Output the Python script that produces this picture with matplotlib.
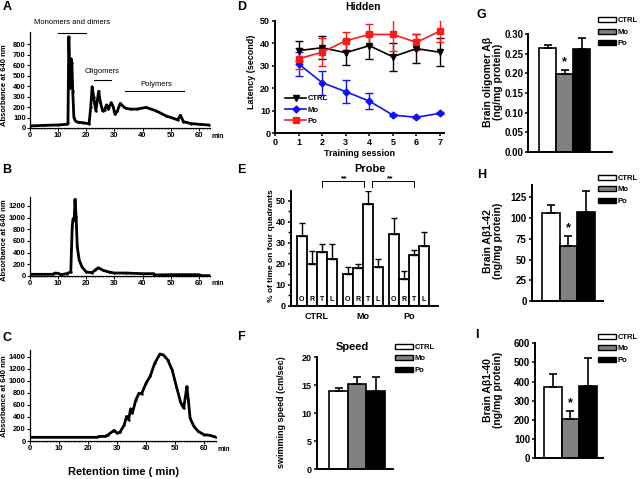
import matplotlib
matplotlib.use('Agg')
import matplotlib.pyplot as plt
from matplotlib.lines import Line2D
from matplotlib.patches import Patch
import numpy as np

plt.rcParams['font.family'] = ['Liberation Sans', 'DejaVu Sans']
plt.rcParams['font.weight'] = 'bold'

# Chromatograms (retention time in min, absorbance at 640 nm)
a_time = [0, 5, 10, 13, 13.5, 13.8, 14.1, 14.3, 14.6, 14.9, 15.2, 15.6, 16.2, 17, 19, 21, 21.6,
          22.1, 22.6, 23.4, 24.4, 25.0, 25.8, 26.5, 27.2, 27.9, 28.9, 29.6, 30.2, 31.0, 32.1, 33.3,
          34.2, 36, 38, 41.3, 44.9, 48.4, 52.0, 52.5, 53.5, 54.5, 57.3, 60.2, 63.5]
a_abs = [20, 25, 29, 35, 50, 870, 600, 380, 660, 620, 350, 100, 65, 55, 50, 40, 200,
         394, 300, 163, 350, 250, 163, 170, 221, 180, 243, 200, 131, 160, 234, 202,
         186, 180, 180, 196, 163, 115, 83, 77, 122, 61, 42, 35, 29]

b_time = [0, 8, 9, 10, 11, 13, 14.5, 15.0, 15.3, 15.7, 16.0, 16.4, 16.8, 17.5, 18.5, 20, 22, 23,
          24.3, 26, 28, 30, 34, 40, 44, 44.2, 50, 60, 61, 64]
b_abs = [29, 29, 51, 45, 23, 40, 69, 840, 983, 954, 1314, 1011, 497, 269, 154, 69, 57, 97,
         143, 97, 69, 51, 51, 40, 40, 17, 23, 23, 6, 6]

c_time = [0, 23, 24, 26, 27, 28.5, 29, 30, 31, 32.5, 33.3, 34, 34.7, 35.3, 36.5, 37.6, 38.5, 40,
          41.5, 43, 44.8, 46, 47.5, 49, 50.5, 52, 53, 53.6, 54.1, 54.6, 55.2, 56.5, 58, 60, 62, 64]
c_abs = [61, 61, 77, 77, 105, 160, 176, 132, 143, 270, 408, 353, 535, 463, 683, 794, 783, 959,
         1080, 1290, 1444, 1428, 1345, 1180, 904, 628, 546, 739, 904, 683, 380, 243, 160, 105, 94, 66]

# Hidden platform latency (s)
sessions = [1, 2, 3, 4, 5, 6, 7]
ctrl_lat = [36.7, 38.0, 35.8, 38.9, 34.0, 37.6, 36.0]
ctrl_lat_err = [4.5, 5.2, 5.6, 5.8, 6.2, 6.5, 6.3]
mo_lat = [30.8, 22.5, 18.5, 14.3, 8.1, 7.1, 8.9]
mo_lat_err = [5.4, 5.3, 5.1, 3.5, 0.4, 0.4, 0.4]
po_lat = [33.1, 36.0, 41.1, 43.9, 43.9, 40.4, 45.4]
po_lat_err = [4.6, 6.2, 4.0, 4.5, 7.2, 3.6, 4.7]

# Probe trial (% of time in quadrants)
groups = ['CTRL', 'Mo', 'Po']
quadrants = ['O', 'R', 'T', 'L']
probe_vals = [[33.2, 19.7, 25.6, 22.4],
              [14.9, 17.8, 48.3, 18.6],
              [34.4, 12.9, 24.0, 28.6]]
probe_err = [[6.3, 6.3, 3.8, 6.8],
             [3.4, 2.2, 6.5, 3.6],
             [7.5, 3.6, 2.7, 6.5]]

# Speed and brain Abeta
speed = [14.0, 15.2, 14.0]
speed_err = [0.6, 1.2, 2.4]
oligomer = [0.264, 0.199, 0.262]
oligomer_err = [0.009, 0.010, 0.028]
ab42 = [106, 66.5, 107]
ab42_err = [10, 12, 26]
ab40 = [374, 205, 379]
ab40_err = [66, 43, 146]

bar_colors = ['white', '#808080', 'black']

W, H = 640, 479
fig = plt.figure(figsize=(6.4, 4.79), dpi=100)


def axes_px(l, t, r, b):
    return fig.add_axes([l / W, 1 - b / H, (r - l) / W, (b - t) / H])


def text_px(x, y, s, **kw):
    kw.setdefault('ha', 'center')
    kw.setdefault('va', 'center')
    fig.text(x / W, 1 - y / H, s, **kw)


def style(ax, lw=1.4):
    for side in ['top', 'right']:
        ax.spines[side].set_visible(False)
    for side in ['left', 'bottom']:
        ax.spines[side].set_linewidth(lw)


def chromatogram(ax, t, v, ymax, yticks):
    style(ax, 0.9)
    ax.plot(t, v, color='black', linewidth=2.0, marker='.', markersize=1.5)
    ax.set_xlim(0, 64)
    ax.set_ylim(0, ymax)
    ax.set_xticks(range(0, 61, 10))
    ax.set_xticks(range(0, 65), minor=True)
    ax.set_yticks(yticks)
    ax.tick_params(labelsize=5.5, length=2, width=0.8, pad=1)
    ax.tick_params(which='minor', length=1, width=0.5)
    ax.text(64.6, -0.055 * ymax, 'min', fontsize=5, va='top', ha='left')


# A
ax = axes_px(30, 32, 210, 128)
chromatogram(ax, a_time, a_abs, 915, range(0, 801, 100))
ax.text(15, 1010, 'Monomers and dimers', fontsize=5.5, weight='normal', ha='center', va='center',
        clip_on=False)
ax.plot([10, 20], [905, 905], color='black', linewidth=0.8, clip_on=False)
ax.text(25.8, 538, 'Oligomers', fontsize=5.5, weight='normal', ha='center', va='center')
ax.plot([22.8, 28.9], [458, 458], color='black', linewidth=0.8)
ax.text(45, 413, 'Polymers', fontsize=5.5, weight='normal', ha='center', va='center')
ax.plot([33.6, 54.7], [356, 356], color='black', linewidth=0.8)
text_px(5, 85, 'Absorbance at 640 nm', fontsize=5.5, rotation=90)
text_px(7, 7.5, 'A', fontsize=9)

# B
ax = axes_px(30, 197, 210, 276)
chromatogram(ax, b_time, b_abs, 1354, range(0, 1201, 200))
text_px(5, 240, 'Absorbance at 640 nm', fontsize=5.5, rotation=90)
text_px(7, 170, 'B', fontsize=9)

# C
ax = axes_px(30, 350, 215.6, 441)
chromatogram(ax, c_time, c_abs, 1510, range(0, 1401, 200))
text_px(5, 396, 'Absorbance at 640 nm', fontsize=5.5, rotation=90)
text_px(7, 338, 'C', fontsize=9)
text_px(124, 472, 'Retention time ( min)', fontsize=8)

# D Hidden
ax = axes_px(275, 20.7, 443.5, 133.3)
style(ax)
ax.errorbar(sessions, ctrl_lat, yerr=ctrl_lat_err, color='black', marker='v', markersize=5,
            linewidth=1.2, capsize=3, capthick=1, elinewidth=1)
ax.errorbar(sessions, mo_lat, yerr=mo_lat_err, color='#1010ff', marker='D', markersize=3.5,
            linewidth=1.2, capsize=3, capthick=1, elinewidth=1)
ax.errorbar(sessions, po_lat, yerr=po_lat_err, color='#ff1a1a', marker='s', markersize=4.5,
            linewidth=1.2, capsize=3, capthick=1, elinewidth=1)
ax.set_xlim(0, 7.15)
ax.set_ylim(0, 50)
ax.set_xticks(range(0, 8))
ax.set_yticks(range(0, 51, 10))
ax.tick_params(labelsize=6.5, length=2.5, width=1.1, pad=1)
handles = [Line2D([], [], color='black', marker='v', markersize=5, linewidth=1.2),
           Line2D([], [], color='#1010ff', marker='D', markersize=3.5, linewidth=1.2),
           Line2D([], [], color='#ff1a1a', marker='s', markersize=4.5, linewidth=1.2)]
ax.legend(handles, groups, loc='upper left', bbox_to_anchor=(285 / W, 1 - 95 / H),
          bbox_transform=fig.transFigure, frameon=False, fontsize=5.5, handlelength=2.8,
          handletextpad=0.15, labelspacing=0.5, borderpad=0, borderaxespad=0)
text_px(252, 72, 'Latency (second)', fontsize=6.5, rotation=90)
text_px(359, 153, 'Training session', fontsize=6.5)
text_px(363, 7, 'Hidden', fontsize=7.5)
text_px(242, 7, 'D', fontsize=9)

# E Probe
ax = axes_px(290.7, 190.7, 438, 305.7)
style(ax)
bw = 1.0
for g in range(3):
    x = 1.1 + g * 4.6 + np.arange(4)
    ax.bar(x, probe_vals[g], width=bw, color='white', edgecolor='black', linewidth=1.3)
    ax.errorbar(x, probe_vals[g], yerr=[[0] * 4, probe_err[g]], fmt='none', ecolor='black',
                elinewidth=1, capsize=2.5, capthick=1)
    for j in range(4):
        ax.text(x[j], 3, quadrants[j], fontsize=5, ha='center', va='center')
    ax.text(x[1] + 0.5, -5, groups[g], fontsize=6.5, ha='center', va='center')
ax.set_xlim(0, 14.73)
ax.set_ylim(0, 54.8)
ax.set_xticks([])
ax.set_yticks(range(0, 51, 10))
ax.set_yticks(range(5, 51, 10), minor=True)
ax.tick_params(labelsize=6.5, length=2.5, width=1.1, pad=1)
ax.tick_params(which='minor', length=2, width=1)
# significance brackets between the T bars
t_ctrl, t_mo, t_po = 1.1 + 2, 1.1 + 4.6 + 2, 1.1 + 9.2 + 2
ax.plot([t_ctrl, t_ctrl, t_mo - 0.4, t_mo - 0.4], [56.5, 59.2, 59.2, 56.5], color='black',
        linewidth=0.7, clip_on=False)
ax.plot([t_mo + 0.4, t_mo + 0.4, t_po, t_po], [56.5, 59.2, 59.2, 56.5], color='black',
        linewidth=0.7, clip_on=False)
ax.text((t_ctrl + t_mo) / 2, 60.5, '**', fontsize=6, ha='center', va='center')
ax.text((t_mo + t_po) / 2, 60.5, '**', fontsize=6, ha='center', va='center')
text_px(271.5, 246, '% of time on four quadrants', fontsize=6, rotation=90)
text_px(370, 169, 'Probe', fontsize=8)
text_px(241, 170, 'E', fontsize=9)


def group_bars(ax, vals, errs, lefts0, width_units, ymax, yticks, star=False, labelsize=7):
    style(ax)
    x = lefts0 + 0.5 + np.arange(3)
    ax.bar(x, vals, width=1.0, color=bar_colors, edgecolor='black', linewidth=1.2)
    ax.errorbar(x, vals, yerr=[[0] * 3, errs], fmt='none', ecolor='black', elinewidth=1.2,
                capsize=3, capthick=1.2)
    if star:
        ax.text(x[1], vals[1] + errs[1] + ymax * 0.015, '*', fontsize=9, ha='center', va='bottom')
    ax.set_xlim(0, width_units)
    ax.set_ylim(0, ymax)
    ax.set_xticks([])
    ax.set_yticks(yticks)
    ax.tick_params(labelsize=labelsize, length=2.5, width=1.1, pad=1)
    return ax


def bar_legend(ax, x, y):
    handles = [Patch(facecolor=c, edgecolor='black', linewidth=1) for c in bar_colors]
    ax.legend(handles, groups, loc='upper left', bbox_to_anchor=(x / W, 1 - y / H),
              bbox_transform=fig.transFigure, frameon=False, fontsize=5.5, handlelength=2.4,
              handleheight=0.7, handletextpad=0.15, labelspacing=0.55, borderpad=0,
              borderaxespad=0)


# F Speed
ax = axes_px(316.7, 357.3, 392.7, 469.3)
group_bars(ax, speed, speed_err, 0.68, 4.1, 20, range(0, 21, 5), labelsize=6.5)
bar_legend(ax, 395, 343.5)
text_px(281.5, 412, 'swimming speed (cm/sec)', fontsize=6.5, rotation=90)
text_px(352, 347, 'Speed', fontsize=8)
text_px(241, 337.5, 'F', fontsize=9)

# G oligomer
ax = axes_px(528.3, 34.3, 611.7, 151.7)
group_bars(ax, oligomer, oligomer_err, 0.63, 4.9, 0.30, np.arange(0, 0.31, 0.05), star=True)
ax.yaxis.set_major_formatter(matplotlib.ticker.FormatStrFormatter('%.2f'))
bar_legend(ax, 598, 17)
text_px(493, 82, 'Brain oligomer A\u03b2\n(ng/mg protein)', fontsize=7.5, rotation=90,
        linespacing=0.95)
text_px(481, 14.7, 'G', fontsize=9)

# H Abeta1-42
ax = axes_px(531.7, 185, 603, 301)
group_bars(ax, ab42, ab42_err, 0.56, 4.0, 140, range(0, 126, 25), star=True)
bar_legend(ax, 598, 174.5)
text_px(493, 241, 'Brain A\u03b21-42\n(ng/mg protein)', fontsize=7.5, rotation=90,
        linespacing=0.95)
text_px(481.7, 174.7, 'H', fontsize=9)

# I Abeta1-40
ax = axes_px(535, 343.3, 603, 458.3)
group_bars(ax, ab40, ab40_err, 0.53, 3.89, 600, range(0, 601, 100), star=True)
bar_legend(ax, 598, 333.5)
text_px(493, 390, 'Brain A\u03b21-40\n(ng/mg protein)', fontsize=7.5, rotation=90,
        linespacing=0.95)
text_px(476.7, 334.7, 'I', fontsize=9)

plt.savefig('out.png', dpi=100)
plt.close()
